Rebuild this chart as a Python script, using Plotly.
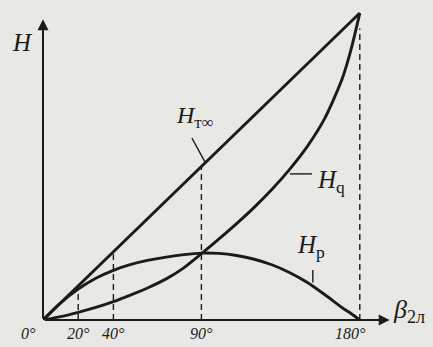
import numpy as np
import plotly.graph_objects as go

# blade outlet angle, degrees
beta = [0, 10, 20, 30, 40, 50, 60, 70, 80, 90, 100, 110, 120, 130, 140, 150, 160, 170, 175, 180]
# theoretical head H_T∞ (straight line), relative units
h_t = [0, 100]
beta_t = [0, 180]
# dynamic head H_q
h_q = [0, 1.1, 2.5, 4.1, 6.0, 8.2, 10.6, 13.4, 17.0, 21.6, 26.4, 31.4, 36.7, 42.5, 49.0, 56.4, 65.6, 78.6, 88.1, 100]
# static head H_p
h_p = [0, 5.6, 10.1, 13.6, 16.2, 18.1, 19.5, 20.5, 21.3, 21.8, 21.7, 21.0, 19.8, 18.0, 15.5, 12.3, 8.3, 4.0, 2.1, 0]

# marked angles and their labels
tick_vals = [0, 20, 40, 90, 180]
tick_text = ["0°", "20°", "40°", "90°", "180°"]
tick_shift = [-15, 0, 0, 0, -9]

INK = "#1b1b1b"
PAPER = "#e8e8e4"
SERIF = "Liberation Serif, DejaVu Serif, serif"

fig = go.Figure()

# vertical guide lines: 20° up to H_p, 40° and 90° up to H_T∞, 180° to the end point
guides = [
    (20, float(np.interp(20, beta, h_p))),
    (40, float(np.interp(40, beta_t, h_t))),
    (90, float(np.interp(90, beta_t, h_t))),
    (180, 95.0),
]
for gx, gy in guides:
    fig.add_trace(go.Scatter(x=[gx, gx], y=[0, gy], mode="lines",
                             line=dict(color=INK, width=1.4, dash="6px,4px"),
                             hoverinfo="skip", showlegend=False))

for xs, ys in [(beta_t, h_t), (beta, h_q), (beta, h_p)]:
    fig.add_trace(go.Scatter(x=xs, y=ys, mode="lines",
                             line=dict(color=INK, width=2.9, shape="spline", smoothing=0.7),
                             hoverinfo="skip", showlegend=False))

# coordinate axes with arrows
axis_arrows = [((0, 0), (0, 98)), ((0, 0), (197, 0))]
for (x0, y0), (x1, y1) in axis_arrows:
    fig.add_annotation(x=x1, y=y1, ax=x0, ay=y0, xref="x", yref="y", axref="x", ayref="y",
                       text="", showarrow=True, arrowhead=2, arrowsize=1.1, arrowwidth=2,
                       arrowcolor=INK)

# leader lines from the curve labels
leaders = [((84.6, 59.3), (92.0, 51.5)), ((140.3, 47.6), (152.8, 47.6)), ((153.3, 16.3), (153.3, 12.2))]
for (x0, y0), (x1, y1) in leaders:
    fig.add_shape(type="line", x0=x0, y0=y0, x1=x1, y1=y1, xref="x", yref="y",
                  line=dict(color=INK, width=1.4))

def label(x, y, text, size, ref="x"):
    fig.add_annotation(x=x, y=y, xref=ref, yref=ref.replace("x", "y"), text=text,
                       showarrow=False, font=dict(family=SERIF, size=size, color=INK))

label(86.5, 66.0, "<i>H</i><sub>т∞</sub>", 24)
label(163.5, 45.0, "<i>H</i><sub>q</sub>", 25)
label(152.0, 24.0, "<i>H</i><sub>p</sub>", 25)
# axis names sit outside the plotting range, so they are placed in paper units
label(-0.095, 0.945, "<i>H</i>", 25, ref="paper")
label(1.09, -0.03, "<i>β</i><sub>2л</sub>", 26, ref="paper")

for v, t, s in zip(tick_vals, tick_text, tick_shift):
    fig.add_annotation(x=v, y=0, xref="x", yref="y", text="<i>" + t + "</i>", showarrow=False,
                       yanchor="top", yshift=-3, xshift=s,
                       font=dict(family=SERIF, size=16, color=INK))

fig.update_xaxes(range=[0, 200], visible=False)
fig.update_yaxes(range=[0, 101], visible=False)
fig.update_layout(width=433, height=347, margin=dict(l=43, r=38, t=10, b=27),
                  paper_bgcolor=PAPER, plot_bgcolor=PAPER, showlegend=False)

fig.write_html("out.html")
